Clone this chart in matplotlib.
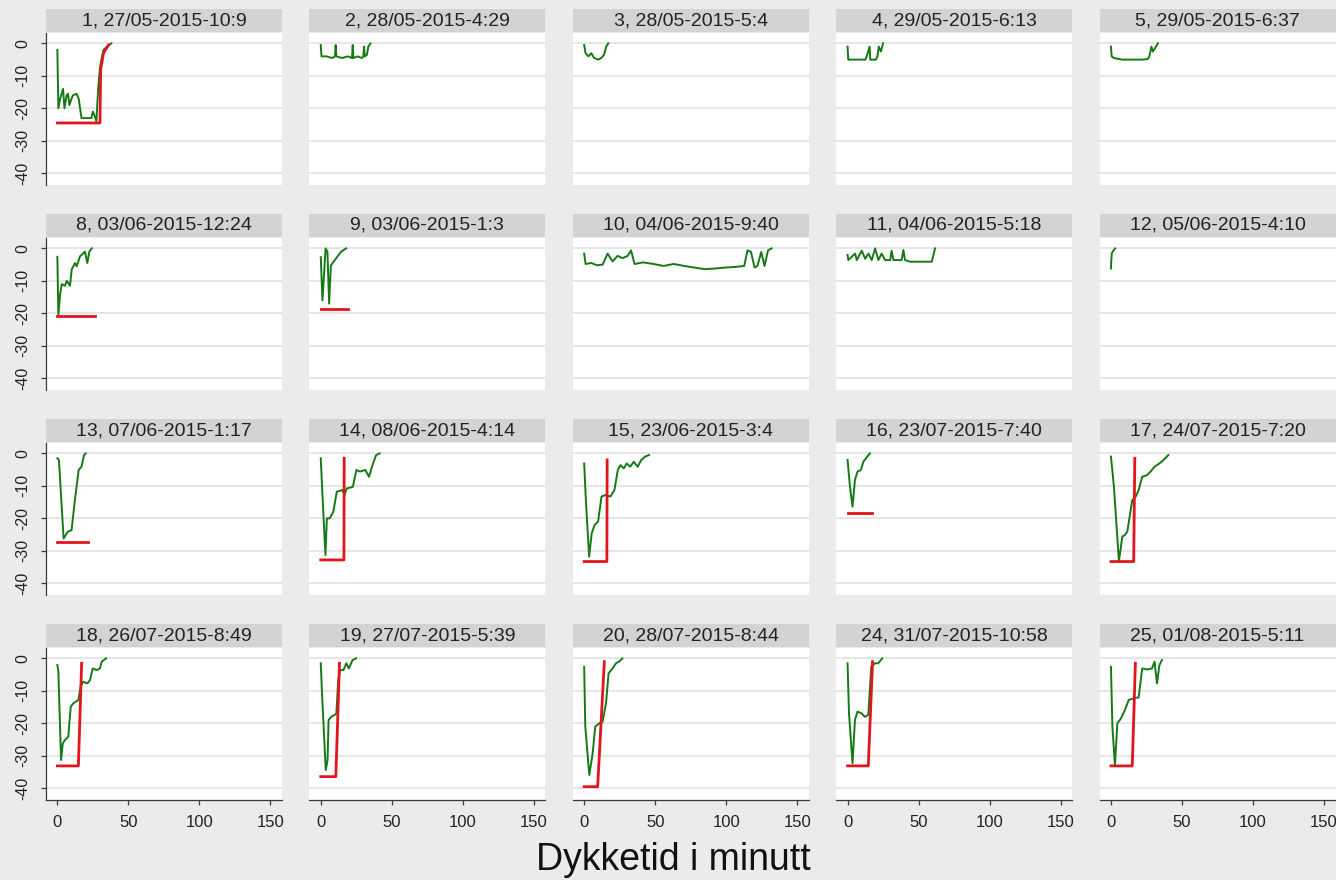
import matplotlib
matplotlib.use("Agg")
import matplotlib.pyplot as plt

plt.rcParams['font.family'] = ['Liberation Sans', 'DejaVu Sans']
plt.rcParams['axes.unicode_minus'] = False

dives = [1, 2, 3, 4, 5, 8, 9, 10, 11, 12, 13, 14, 15, 16, 17, 18, 19, 20, 24, 25]
titles = ['1, 27/05-2015-10:9', '2, 28/05-2015-4:29', '3, 28/05-2015-5:4',
          '4, 29/05-2015-6:13', '5, 29/05-2015-6:37', '8, 03/06-2015-12:24',
          '9, 03/06-2015-1:3', '10, 04/06-2015-9:40', '11, 04/06-2015-5:18',
          '12, 05/06-2015-4:10', '13, 07/06-2015-1:17', '14, 08/06-2015-4:14',
          '15, 23/06-2015-3:4', '16, 23/07-2015-7:40', '17, 24/07-2015-7:20',
          '18, 26/07-2015-8:49', '19, 27/07-2015-5:39', '20, 28/07-2015-8:44',
          '24, 31/07-2015-10:58', '25, 01/08-2015-5:11']

y_ticks = [0, -10, -20, -30, -40]
y_labels = ['0', '-10', '-20', '-30', '-40']
x_ticks = [0, 50, 100, 150]
x_labels = ['0', '50', '100', '150']

# depth profile per dive (green): minutes, metres
g1_t = [0, 0.7, 2, 4, 5, 6.5, 7.5, 8.5, 10, 11, 13.5, 15, 17, 20, 24, 25, 26, 27.5, 28.7, 30, 31, 32.5, 35, 38]
g1_d = [-2, -20, -17, -14, -20, -16, -15.5, -19, -17, -16, -15.5, -17, -23, -23, -23, -21, -22, -24, -14, -7.5, -5, -2, -1, 0]
g2_t = [0, 0.5, 4, 8, 10, 10.5, 11, 15, 19, 22, 22.5, 23, 26, 29, 30, 30.5, 31, 32.5, 33.5, 35]
g2_d = [-0.5, -4, -4, -4.5, -4, -0.5, -4, -4.5, -4, -4.5, -0.5, -4.5, -4, -4.5, -4, -1, -4, -3.5, -1, 0]
g3_t = [0, 1, 3, 5, 7, 10, 12, 14, 15.5, 17]
g3_d = [-0.5, -3, -4, -3, -4.5, -5, -4.5, -3.5, -1, 0]
g4_t = [0, 0.5, 6, 12.5, 13.5, 15.5, 16, 18, 20, 21, 22, 23.5, 25]
g4_d = [-1, -5, -5, -5, -4, -1, -5, -5, -5, -4, -1, -2.5, 0]
g5_t = [0, 0.5, 2, 8, 15, 22, 26, 27, 28.5, 29.5, 31, 33]
g5_d = [-1, -4, -4.5, -5, -5, -5, -4.8, -4, -1, -2.5, -1.5, 0]
g8_t = [0, 0.7, 2, 3.1, 5.4, 6.6, 8.9, 10.1, 12.4, 13.6, 15.9, 19.4, 21.1, 22.5, 24.2]
g8_d = [-2.6, -20.5, -14, -11, -11.5, -10, -11.5, -6.5, -4.5, -5.5, -2.5, -1, -4.5, -1, 0]
g9_t = [0, 1.2, 3.4, 4.7, 5.9, 7.1, 8.3, 10.6, 14.3, 17.9]
g9_d = [-2.7, -16, 0, -1, -17, -5.4, -4.5, -3.2, -1, 0]
g10_t = [0, 1, 5, 9, 13, 16.5, 20, 23.6, 27, 30.7, 33, 35.5, 41.5, 48.8, 56, 63, 70.4, 77.6, 84.9, 92,
         99.3, 106.6, 112.7, 115, 117.5, 120, 122, 124.7, 127, 129.5, 132]
g10_d = [-1.6, -4.8, -4.5, -5.2, -5, -1.6, -4, -2.3, -3, -2.3, -0.6, -4.8, -4.3, -4.8, -5.4, -4.8, -5.4, -5.9,
         -6.4, -6.2, -5.9, -5.7, -5.4, -0.6, -1.1, -5.9, -5.4, -1.1, -5.4, -0.6, 0]
g11_t = [0, 0.5, 5.3, 6.5, 10, 12.4, 14.7, 17, 19.4, 21.7, 24, 26.4, 30, 31, 32.3, 38.1, 39.3, 40.5, 44,
         48.7, 53.4, 59.3, 61.6]
g11_d = [-2, -3.6, -1.6, -3.6, -0.7, -3.2, -1.6, -3.6, 0, -3.6, -1.6, -3.6, -3.6, -0.7, -3.6, -3.6, -0.5,
         -3.6, -4.1, -4.1, -4.1, -4.1, 0]
g12_t = [0, 0.2, 0.6, 1.5, 3]
g12_d = [-6.2, -4, -1.5, -0.8, 0]
g13_t = [0, 1.1, 4.4, 7.4, 10, 12.5, 15, 17, 18.8, 20]
g13_d = [-1.5, -2, -26.2, -24.1, -23.6, -13.8, -5.1, -4.1, -0.5, 0]
g14_t = [0, 1.3, 3.3, 4.3, 6.3, 8.8, 11.3, 15.1, 16.8, 18.3, 22.6, 25.1, 27.6, 31.4, 34, 36.4, 39, 41.5]
g14_d = [-1.5, -13.8, -31.3, -20, -20, -18, -11.8, -11.3, -12.8, -10.8, -10.3, -5.1, -5.6, -5.1, -7.2, -3.6, -0.5, 0]
g15_t = [0, 1.2, 3.5, 5.3, 7.4, 9.8, 12.2, 15, 18.5, 21.3, 23.7, 25.5, 27.9, 30, 32.4, 34.9, 37.7, 40.1, 42.9, 45.7]
g15_d = [-3.1, -14.4, -31.8, -24.6, -22, -21, -13.3, -12.8, -13.3, -11.3, -5.1, -3.6, -4.6, -3.1, -4.1, -2.6,
         -4.1, -2.1, -1, -0.5]
g16_t = [0, 1.7, 3.5, 5.2, 7, 9.4, 11.1, 13.9, 15.7]
g16_d = [-2, -10.3, -16.4, -8.2, -5.6, -5.1, -2.6, -1, 0]
g17_t = [0, 2.1, 5.6, 8, 9.8, 11.5, 15, 17.4, 19.5, 22, 25.4, 27.9, 30.7, 34.1, 36.9, 40.4]
g17_d = [-1, -10.3, -33.3, -25.6, -25.1, -24.1, -14.4, -13.3, -11.3, -7.2, -6.7, -5.6, -4.1, -3.1, -2.1, -0.5]
g18_t = [0, 0.7, 2.6, 3.8, 5.4, 7.7, 9.4, 11.3, 14.8, 16.4, 18.3, 21.1, 23, 24.9, 27.7, 30, 31.2, 34.3]
g18_d = [-2, -4, -31.3, -26.2, -25.1, -24.1, -14.9, -13.8, -12.8, -8.7, -7.2, -7.7, -6.7, -3.1, -3.6, -3.1, -1, 0]
g19_t = [0, 1, 3.5, 4.8, 5.5, 7.3, 9.8, 11, 12.3, 13.6, 16, 18, 19.8, 22.4, 24.9]
g19_d = [-1.5, -11.8, -34.4, -31.3, -19, -18, -17.4, -16.9, -6.7, -3.6, -3.6, -1.5, -3.1, -0.5, 0]
g20_t = [0, 0.8, 3.6, 6, 7.8, 10.6, 13, 15.4, 17.2, 20, 22.4, 24.5, 26.9]
g20_d = [-2.6, -21, -35.9, -29.2, -21, -20, -19.5, -13.8, -4.6, -3.1, -1.5, -1, 0]
g24_t = [0, 1, 3.5, 5.2, 7, 9.8, 12.2, 14.6, 16.7, 19.2, 21.6, 24.4]
g24_d = [-1.5, -16.9, -32.3, -19, -16.4, -16.9, -18, -17.4, -2.6, -1.5, -1.5, 0]
g25_t = [0, 1, 2.8, 4.5, 7, 9.8, 12.5, 16, 19.5, 22, 25.4, 28.9, 30.7, 32.4, 34.1, 35.9]
g25_d = [-2.6, -21, -32.8, -20, -18.5, -15.9, -12.8, -12.3, -12, -3.1, -3.4, -3.1, -1, -7.7, -2.1, -0.5]

# red lines (only some dives have one)
r1_t = [0, 30, 30.5, 32.5, 36]
r1_d = [-24.5, -24.5, -8, -3, -0.5]
r8_t = [0, 26.5]
r8_d = [-20.8, -20.8]
r9_t = [0, 19.4]
r9_d = [-18.8, -18.8]
r13_t = [0, 21.3]
r13_d = [-27.2, -27.2]
r14_t = [0, 16.3, 16.5]
r14_d = [-32.8, -32.8, -1.5]
r15_t = [0, 16, 16.2]
r15_d = [-33.3, -33.3, -2]
r16_t = [0, 17.5]
r16_d = [-18.5, -18.5]
r17_t = [0, 16, 16.8]
r17_d = [-33.3, -33.3, -1.5]
r18_t = [0, 14.8, 17.1]
r18_d = [-33.1, -33.1, -1.5]
r19_t = [0, 10.6, 13.2]
r19_d = [-36.4, -36.4, -1.5]
r20_t = [0, 9.5, 14.2]
r20_d = [-39.5, -39.5, -1]
r24_t = [0, 14.6, 17.6]
r24_d = [-33.1, -33.1, -1]
r25_t = [0, 15, 17.2]
r25_d = [-33.1, -33.1, -1.5]

green = {1: (g1_t, g1_d), 2: (g2_t, g2_d), 3: (g3_t, g3_d), 4: (g4_t, g4_d), 5: (g5_t, g5_d),
         8: (g8_t, g8_d), 9: (g9_t, g9_d), 10: (g10_t, g10_d), 11: (g11_t, g11_d), 12: (g12_t, g12_d),
         13: (g13_t, g13_d), 14: (g14_t, g14_d), 15: (g15_t, g15_d), 16: (g16_t, g16_d), 17: (g17_t, g17_d),
         18: (g18_t, g18_d), 19: (g19_t, g19_d), 20: (g20_t, g20_d), 24: (g24_t, g24_d), 25: (g25_t, g25_d)}
red = {1: (r1_t, r1_d), 8: (r8_t, r8_d), 9: (r9_t, r9_d), 13: (r13_t, r13_d), 14: (r14_t, r14_d),
       15: (r15_t, r15_d), 16: (r16_t, r16_d), 17: (r17_t, r17_d), 18: (r18_t, r18_d), 19: (r19_t, r19_d),
       20: (r20_t, r20_d), 24: (r24_t, r24_d), 25: (r25_t, r25_d)}

W, H = 1336, 880
bg = '#EBEBEB'
fig = plt.figure(figsize=(W / 100, H / 100), dpi=100, facecolor=bg)

col_left, col_step, col_w = 46, 263.4, 236
row_top, row_step, row_h = 33, 205, 152
axis_col = '#3a3a3a'

for i, dive in enumerate(dives):
    r, c = divmod(i, 5)
    left = col_left + col_step * c
    top = row_top + row_step * r

    ax = fig.add_axes([left / W, 1 - (top + row_h) / H, col_w / W, row_h / H])
    ax.set_facecolor('white')
    ax.set_xlim(-8, 158.2)
    ax.set_ylim(-43.6, 3.2)
    for s in ax.spines.values():
        s.set_visible(False)

    ax.set_yticks(y_ticks)
    ax.set_xticks(x_ticks)
    ax.yaxis.grid(True, color='#E4E4E4', lw=1.3)
    ax.set_axisbelow(True)

    if c == 0:
        ax.spines['left'].set_visible(True)
        ax.spines['left'].set_color(axis_col)
        ax.spines['left'].set_linewidth(0.9)
        ax.set_yticklabels(y_labels, rotation=90, va='center', fontsize=11.5, color='#222222')
        ax.tick_params(axis='y', length=3.6, width=0.9, color=axis_col, pad=8)
    else:
        ax.tick_params(axis='y', length=0, labelleft=False)

    if r == 3:
        ax.spines['bottom'].set_visible(True)
        ax.spines['bottom'].set_color(axis_col)
        ax.spines['bottom'].set_linewidth(0.9)
        ax.set_xticklabels(x_labels, fontsize=12, color='#222222')
        ax.tick_params(axis='x', length=3.6, width=0.9, color=axis_col, pad=7)
    else:
        ax.tick_params(axis='x', length=0, labelbottom=False)

    gt, gd = green[dive]
    ax.plot(gt, gd, color='#157a15', lw=1.4)
    if dive in red:
        rt, rd = red[dive]
        ax.plot(rt, rd, color='#e3141c', lw=2.0)

    strip = fig.add_axes([left / W, 1 - (top - 1) / H, col_w / W, 23 / H])
    strip.set_facecolor('#D3D3D3')
    strip.set_xticks([])
    strip.set_yticks([])
    for s in strip.spines.values():
        s.set_visible(False)
    strip.text(0.5, 0.5, titles[i], ha='center', va='center', fontsize=14,
               color='#222222', transform=strip.transAxes)

fig.text(673 / W, 1 - 870 / H, 'Dykketid i minutt', ha='center', va='baseline',
         fontsize=27, color='#111111')

fig.savefig('out.png', dpi=100, facecolor=bg)
